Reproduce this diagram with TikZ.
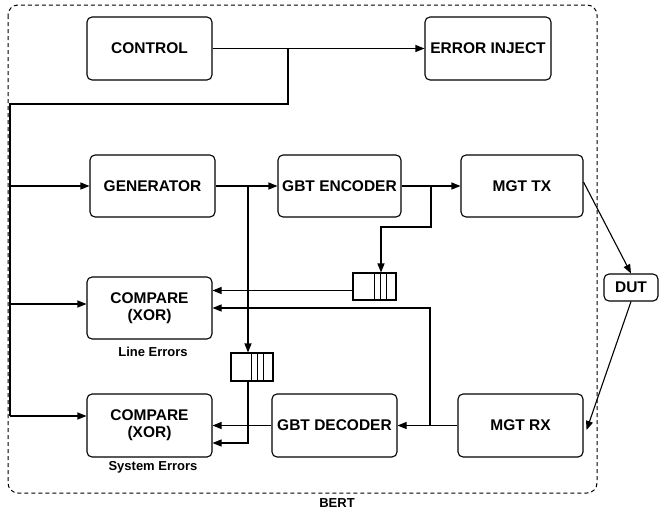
\documentclass[tikz,border=0pt]{standalone}
\usepackage{fontspec}
\setmainfont{Liberation Sans}
\usetikzlibrary{arrows.meta}
\begin{document}
\begin{tikzpicture}[x=1pt,y=-1pt, line width=1.1pt,
  box/.style={draw, rounded corners=5pt, font=\fontsize{15.5}{17}\selectfont\bfseries, align=center, inner sep=0pt, minimum width=125pt, minimum height=63pt},
  fifo/.style={draw, inner sep=0pt, minimum width=43pt, minimum height=27pt},
  arr/.style={-{Triangle[length=9pt,width=7pt]}},
  lbl/.style={font=\fontsize{13}{15}\selectfont\bfseries, inner sep=0pt}]
\useasboundingbox (0,0) rectangle (659,512);
% frame
\draw[dash pattern=on 4pt off 3pt, line width=1pt, rounded corners=10pt] (8,5) rectangle (597,493);
\node[lbl] (bert) at (337,503) {BERT};
% boxes
\node[box] (ctrl) at (149.5,48.5) {CONTROL};
\node[box, minimum width=126pt] (ei) at (488,48.5) {ERROR INJECT};
\node[box, minimum height=62pt] (gen) at (152.5,186) {GENERATOR};
\node[box, minimum width=123pt, minimum height=62pt] (enc) at (339.5,186) {GBT ENCODER};
\node[box, minimum width=122pt, minimum height=62pt] (tx) at (522,186) {MGT TX};
\node[box, minimum height=62pt] (cmp1) at (149.5,308) {COMPARE\\(XOR)};
\node[box] (cmp2) at (149.5,425.5) {COMPARE\\(XOR)};
\node[box] (dec) at (334.5,425.5) {GBT DECODER};
\node[box] (rx) at (520.5,425.5) {MGT RX};
\node[box, minimum width=54pt, minimum height=27pt] (dut) at (631,287.5) {DUT};
\node[lbl] (le) at (153,352) {Line Errors};
\node[lbl] (se) at (153,467) {System Errors};
% fifos
\node[fifo] (f1) at (374.5,286.5) {};
\foreach \d in {22,28,34} \draw ([xshift=\d pt]f1.north west) -- ([xshift=\d pt]f1.south west);
\node[fifo, minimum width=42pt, minimum height=28pt] (f2) at (252,367) {};
\foreach \d in {21,27,33} \draw ([xshift=\d pt]f2.north west) -- ([xshift=\d pt]f2.south west);
% control bus
\coordinate (j1) at (288,48.5);
\coordinate (l1) at (10,186);
\coordinate (l2) at (10,304);
\coordinate (l3) at (10,416);
\draw[arr] (ctrl.east) -- (ei.west);
\draw[line width=1.9pt] (j1) -- (288,104) -- (10,104) -- (l1);
\draw (l1) -- (l3);
\draw[arr] (l1) -- (gen.west);
\draw[arr] (l2) -- (l2 -| cmp1.west);
\draw[arr] (l3) -- (l3 -| cmp2.west);
% tx path
\coordinate (j2) at (248,186);
\coordinate (j3) at (431,186);
\draw[arr] (gen.east) -- (enc.west);
\draw[arr] (j2) -- (j2 |- f2.north);
\draw[arr] (enc.east) -- (tx.west);
\draw[arr] (j3) -- (431,227) -| ([xshift=6.5pt]f1.north);
\coordinate (a1) at ([yshift=-4pt]f1.west);
\draw[arr] (a1) -- (a1 -| cmp1.east);
% rx path
\coordinate (j4) at (430,425.5);
\draw[arr] (rx.west) -- (dec.east);
\draw[arr] (j4) -- (430,308) -- (cmp1.east);
\draw[arr] (dec.west) -- (cmp2.east);
\draw[arr] (j2 |- f2.south) |- ([yshift=-17.5pt]cmp2.east);
% dut
\draw[arr] ([yshift=4pt]tx.east) -- (dut.north);
\draw[arr] (dut.south) -- ([yshift=-4.5pt,xshift=3pt]rx.east);
\end{tikzpicture}
\end{document}
